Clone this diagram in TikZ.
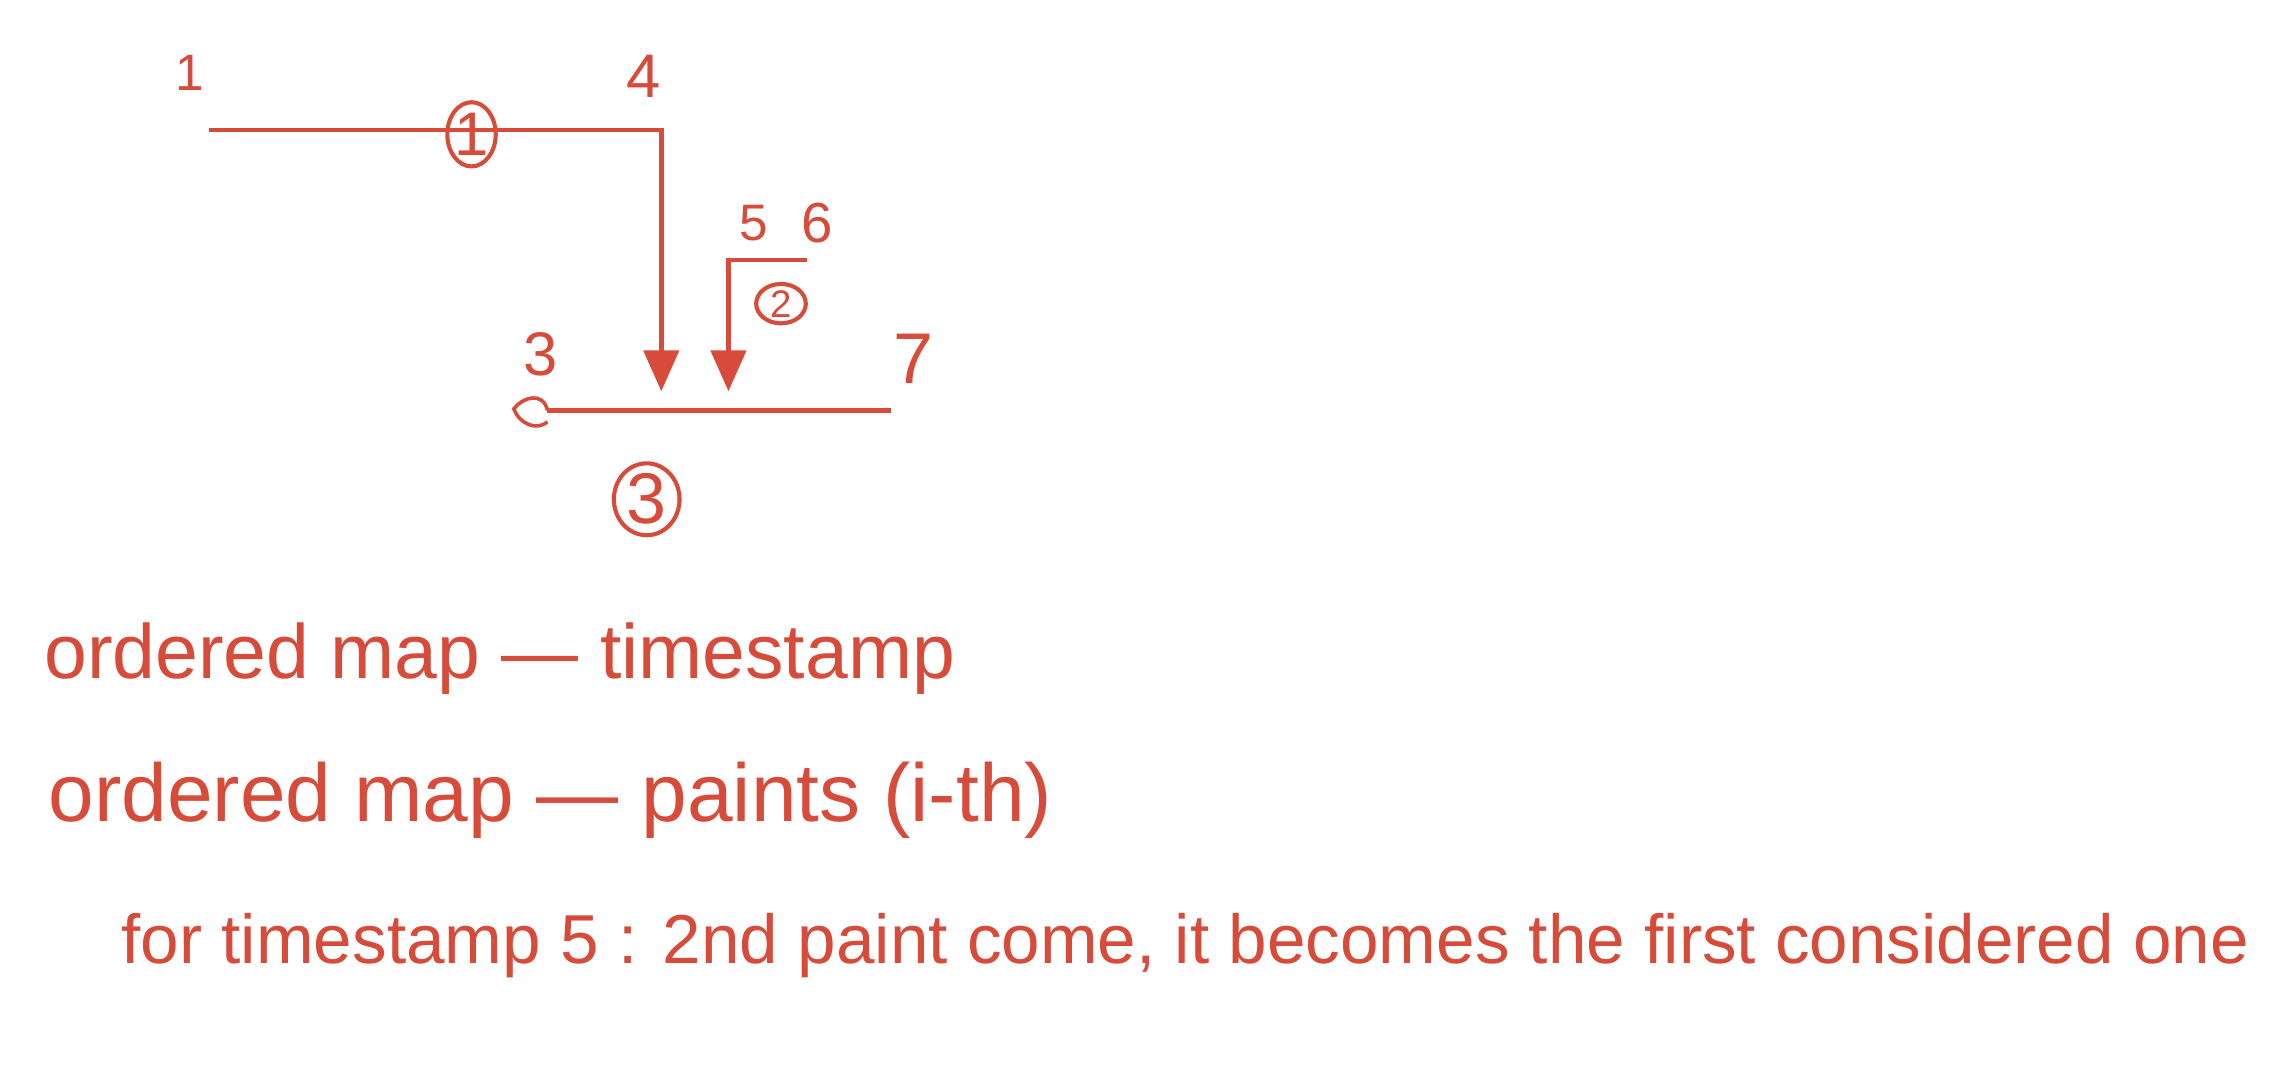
\documentclass[tikz,border=0pt]{standalone}
\usepackage{fontspec}
\setmainfont{Liberation Sans}
\usepackage{tikz}
\usetikzlibrary{arrows.meta,positioning,shapes.geometric}
\definecolor{ink}{HTML}{D64B3A}
\tikzset{
  seg/.style={
    draw=ink, line width=1.8pt
  },
  segarrow/.style={
    seg, -{Triangle[length=0.56cm, width=0.48cm]}
  },
  ptlabel/.style={
    text=ink, inner sep=0pt, font=\fontsize{#1}{#1}\selectfont
  },
  ptlabel/.default=20,
  circnum/.style={
    ellipse, draw=ink, line width=1.6pt, text=ink, inner sep=0pt
  },
  notetext/.style={
    text=ink, anchor=base west, inner sep=0pt,
    font=\fontsize{#1}{#1}\selectfont
  },
}

\begin{document}
\begin{tikzpicture}[x=0.02cm, y=0.02cm]
  \useasboundingbox (0,0) rectangle (1568,-741);

  % ── Interval 1 ────────────────
  \coordinate (a1) at (143,-89);
  \coordinate (a4) at (453,-89);
  \coordinate (t1) at (453,-268);
  \draw[segarrow] (a1) -- (a4) -- (t1);
  \node[ptlabel=20] (n1) at (130,-50) {1};
  \node[ptlabel=24] (n4) at (441,-52) {4};
  \node[circnum, minimum width=0.54cm, minimum height=0.88cm,
        font=\fontsize{24}{24}\selectfont] (c1) at (323,-92) {1};

  % ── Interval 2 ────────────────
  \coordinate (b6) at (553,-178);
  \coordinate (b5) at (499,-178);
  \coordinate (t2) at (499,-268);
  \draw[segarrow] (b6) -- (b5) -- (t2);
  \node[ptlabel=20] (n5) at (516,-153) {5};
  \node[ptlabel=22] (n6) at (560,-153) {6};
  \node[circnum, minimum width=0.68cm, minimum height=0.54cm,
        font=\fontsize{15}{15}\selectfont] (c2) at (535,-208) {2};

  % ── Interval 3 ────────────────
  \coordinate (l3) at (375,-281);
  \coordinate (l7) at (610,-281);
  \draw[seg] (l3) -- (l7);
  \draw[ink, line width=1.4pt] (l3) .. controls (372,-268) and (358,-272)
    .. (352,-280) .. controls (356,-291) and (368,-295) .. (375,-289);
  \node[ptlabel=24] (n3) at (370,-243) {3};
  \node[ptlabel=28] (n7) at (626,-246) {7};
  \node[circnum, minimum width=0.9cm, minimum height=0.98cm,
        font=\fontsize{28}{28}\selectfont] (c3) at (443,-342) {3};

  % ── Notes ────────────────
  \node[notetext=30] (note1) at (30,-465) {ordered map --- timestamp};
  \node[notetext=32] (note2) at (33,-563) {ordered map --- paints (i-th)};
  \node[notetext=27] (note3) at (83,-660)
    {for timestamp 5 : 2nd paint come, it becomes the first considered one};
\end{tikzpicture}
\end{document}
